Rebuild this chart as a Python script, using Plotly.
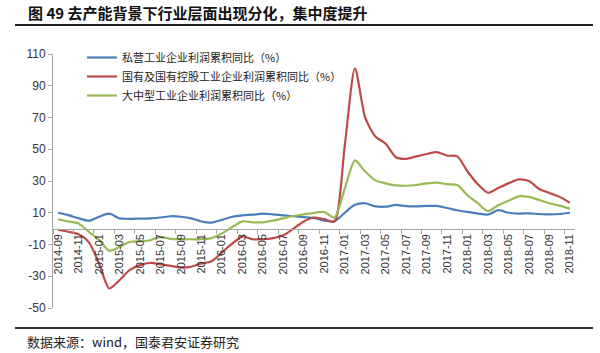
import plotly.graph_objects as go

months = ["2014-09","2014-10","2014-11","2014-12","2015-01","2015-02","2015-03","2015-04","2015-05","2015-06",
          "2015-07","2015-08","2015-09","2015-10","2015-11","2015-12","2016-01","2016-02","2016-03","2016-04",
          "2016-05","2016-06","2016-07","2016-08","2016-09","2016-10","2016-11","2016-12","2017-01","2017-02",
          "2017-03","2017-04","2017-05","2017-06","2017-07","2017-08","2017-09","2017-10","2017-11","2017-12",
          "2018-01","2018-02","2018-03","2018-04","2018-05","2018-06","2018-07","2018-08","2018-09","2018-10",
          "2018-11"]

private = [10, 8.5, 6.5, 5, 7.5, 9.4, 6.5, 6.2, 6.3, 6.5,
           7, 7.8, 7.5, 6.5, 4.5, 3.8, 5.5, 7.5, 8.4, 8.8,
           9.4, 9, 8.4, 7.8, 7.2, 6.7, 5, 4.6, 10, 15,
           16, 14, 13.8, 15, 14.2, 14, 14.3, 14.3, 13, 11.6,
           10.5, 9.5, 8.8, 11.6, 10, 9.5, 9.6, 9.2, 9, 9.2,
           10]

state = [-0.6, -2, -3.5, -8.5, -22, -37.7, -32.5, -26, -23, -21.6,
         -22.5, -23.5, -24.5, -24, -22, -20.5, -15, -9.5, -5, -6.7,
         -6.7, -6, -4.2, 0, 4.5, 7, 6, 4.5, 52, 101,
         70, 58, 53.5, 45, 44, 45.5, 47, 48.2, 46, 45.5,
         36, 28, 22.6, 25.6, 28.5, 31, 30, 25, 22.5, 20,
         16.2]

large = [5.9, 4.5, 3.2, -2, -7, -14, -11.5, -8.4, -8, -7.3,
         -5.2, -6.5, -6.7, -6.7, -6.7, -6, -3, 1, 4.6, 4,
         4, 5, 6.5, 8, 9, 10, 10.5, 7, 25, 43,
         36, 30.4, 28.5, 27.3, 27, 27.5, 28.5, 29, 28, 27.5,
         21, 16, 11, 14.7, 17.5, 20.3, 20, 18, 16, 14.5,
         12.6]

names = ["私营工业企业利润累积同比（%）", "国有及国有控股工业企业利润累积同比（%）", "大中型工业企业利润累积同比（%）"]
colors = ["#4A7EBB", "#BE4B48", "#98B954"]
yticks = list(range(-50, 111, 20))
ytick_labels = [str(v) for v in yticks]

x = list(range(len(months)))
fig = go.Figure()
for name, vals, c in zip(names, [private, state, large], colors):
    fig.add_trace(go.Scatter(x=x, y=vals, mode="lines", name=name,
                             line=dict(color=c, width=2.2, shape="spline", smoothing=0.7)))

W, H = 600, 353
L, R, T, B = 53, 25, 54, 45
pw = W - L - R
ph = H - T - B
ymin, ymax = -50, 110

def px_x(p):
    return (p - L) / pw

def px_y(p):
    return (H - B - p) / ph

fig.update_layout(
    width=W, height=H,
    margin=dict(l=L, r=R, t=T, b=B),
    paper_bgcolor="white", plot_bgcolor="white",
    font=dict(family="Noto Sans CJK SC, sans-serif", color="#333333"),
    showlegend=True,
    legend=dict(x=px_x(82), y=px_y(43), xanchor="left", yanchor="top",
                font=dict(size=11, color="#222222"), bgcolor="rgba(0,0,0,0)",
                tracegroupgap=0, itemwidth=30),
    xaxis=dict(range=[-0.5, len(months) - 0.5], tickmode="array",
               tickvals=x[::2], ticktext=months[::2], tickangle=-90,
               anchor="free", position=(0 - ymin) / (ymax - ymin),
               showline=True, linecolor="#A6A6A6", linewidth=1,
               ticks="", showgrid=False, zeroline=False,
               tickfont=dict(size=11, color="#333333", family="Liberation Sans, Arial, sans-serif"),
               minor=dict(ticks="outside", tick0=-0.5, dtick=2, ticklen=4, tickcolor="#A6A6A6")),
    yaxis=dict(range=[ymin, ymax], tickmode="array", tickvals=yticks, ticktext=ytick_labels,
               showline=True, linecolor="#A6A6A6", linewidth=1,
               ticks="outside", ticklen=4, tickcolor="#A6A6A6",
               showgrid=False, zeroline=False,
               tickfont=dict(size=12, color="#333333", family="Liberation Sans, Arial, sans-serif")),
)

fig.add_annotation(text="<b>图 49 去产能背景下行业层面出现分化，集中度提升</b>", xref="paper", yref="paper",
                   x=px_x(26), y=px_y(12), xanchor="left", yanchor="middle", showarrow=False,
                   font=dict(size=15, color="#111111", family="Noto Sans CJK SC"))
fig.add_annotation(text="数据来源：wind，国泰君安证券研究", xref="paper", yref="paper",
                   x=px_x(25), y=px_y(341), xanchor="left", yanchor="middle", showarrow=False,
                   font=dict(size=13, color="#222222", family="Noto Sans CJK SC"))
fig.add_shape(type="line", xref="paper", yref="paper", x0=px_x(15), x1=px_x(593),
              y0=px_y(25), y1=px_y(25), line=dict(color="#222222", width=2))
fig.add_shape(type="line", xref="paper", yref="paper", x0=px_x(15), x1=px_x(593),
              y0=px_y(328), y1=px_y(328), line=dict(color="#333333", width=2))

fig.write_html("out.html")
